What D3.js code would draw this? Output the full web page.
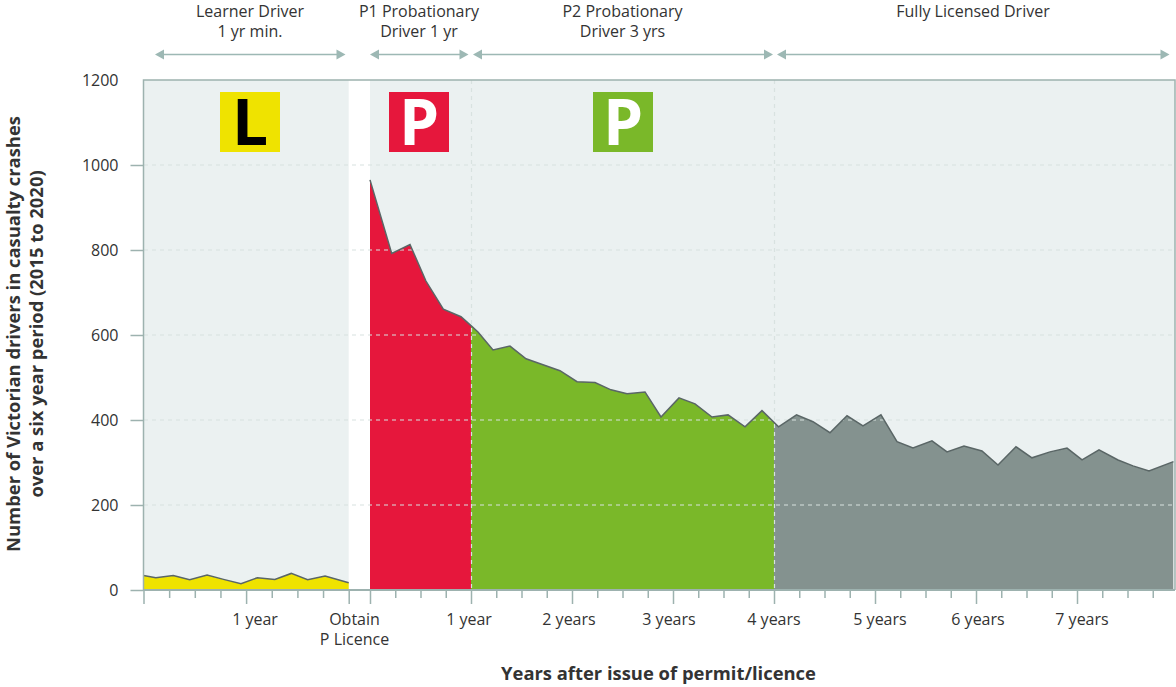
<!DOCTYPE html>
<html><head><meta charset="utf-8">
<script src="https://cdn.jsdelivr.net/npm/d3@7/dist/d3.min.js"></script>
<style>
html,body{margin:0;padding:0;background:#fff}
svg{display:block}
text{font-family:"Open Sans",sans-serif;fill:#333}
</style></head><body><svg id="c" width="1176" height="687"></svg>
<script>
// Learner period: years since permit, crashes
const learnerYears = [0,0.12,0.29,0.45,0.62,0.78,0.95,1.11,1.28,1.44,1.60,1.77,2.0];
const learnerValues = [34,29,34,24,35,25,15,29,25,39,24,33,17];
// Licensed period: years since licence, crashes
const licensedYears = [0,0.215,0.396,0.554,0.726,0.901,1.0,1.069,1.218,1.386,1.545,1.713,1.881,2.05,2.228,2.386,2.545,2.723,2.881,3.059,3.218,3.386,3.545,3.713,3.881,4.045,4.223,4.386,4.554,4.723,4.881,5.059,5.218,5.376,5.564,5.713,5.881,6.059,6.218,6.396,6.554,6.733,6.901,7.05,7.218,7.406,7.554,7.713,7.955];
const licensedValues = [965,792,813,727,661,643,622,607,565,574,544,530,516,490,488,471,462,466,407,452,438,407,412,384,422,384,412,396,370,410,386,412,349,334,351,325,339,327,294,337,311,325,334,306,330,306,292,280,302];
const yTicks = [0,200,400,600,800,1000,1200];
const phases = [
  {name:"P1",from:0,to:1,fill:"#e6173c"},
  {name:"P2",from:1,to:4,fill:"#7ab829"},
  {name:"Full",from:4,to:7.955,fill:"#84928f"}
];
const headers = [
  {lines:["Learner Driver","1 yr min."],cx:250,a:155,b:345.5},
  {lines:["P1 Probationary","Driver 1 yr"],cx:419,a:370,b:468.5},
  {lines:["P2 Probationary","Driver 3 yrs"],cx:622.5,a:473,b:773},
  {lines:["Fully Licensed Driver"],cx:973,a:777,b:1169.5}
];
const badges = [
  {letter:"L",x:220,fill:"#efe300",color:"#000"},
  {letter:"P",x:389,fill:"#e6173c",color:"#fff"},
  {letter:"P",x:593,fill:"#7ab829",color:"#fff"}
];
const xLabels = [
  {t:"1 year",x:255},{t:"1 year",x:469},{t:"2 years",x:569},{t:"3 years",x:669},
  {t:"4 years",x:774},{t:"5 years",x:880},{t:"6 years",x:978},{t:"7 years",x:1082}
];
const axisCol="#9db2af", gridCol="#d8e2e0", lineCol="#5a6666", panel="#ebf1f1";

const svg=d3.select("#c");
const y=d3.scaleLinear().domain([0,1200]).range([590,80]);
const xL=d3.scaleLinear().domain([0,2]).range([143.5,348.7]);
const xP=d3.scaleLinear().domain([0,8]).range([370,1178]);

svg.append("rect").attr("x",143.5).attr("y",80).attr("width",xL(2)-143.5).attr("height",510).attr("fill",panel);
svg.append("rect").attr("x",370).attr("y",80).attr("width",1175-370).attr("height",510).attr("fill",panel);

const lData=learnerYears.map((d,i)=>[d,learnerValues[i]]);
const pData=licensedYears.map((d,i)=>[d,licensedValues[i]]);
const defs=svg.append("defs");
svg.append("path").datum(lData).attr("fill","#efe300")
  .attr("d",d3.area().x(d=>xL(d[0])).y0(y(0)).y1(d=>y(d[1])));
phases.forEach((p,i)=>{
  defs.append("clipPath").attr("id","clip"+i).append("rect")
    .attr("x",xP(p.from)).attr("y",80).attr("width",xP(p.to)-xP(p.from)).attr("height",510);
  svg.append("path").datum(pData).attr("fill",p.fill).attr("clip-path",`url(#clip${i})`)
    .attr("d",d3.area().x(d=>xP(d[0])).y0(y(0)).y1(d=>y(d[1])));
});

const grid=svg.append("g").attr("fill","none").attr("stroke",gridCol).attr("stroke-width",1.2).attr("stroke-dasharray","4 4");
yTicks.filter(v=>v>0&&v<1200).forEach(v=>grid.append("line").attr("x1",144).attr("x2",1175).attr("y1",y(v)).attr("y2",y(v)));
[1,4].forEach(v=>grid.append("line").attr("x1",xP(v)+0.5).attr("x2",xP(v)+0.5).attr("y1",80).attr("y2",590));

svg.append("path").datum(lData).attr("fill","none").attr("stroke",lineCol).attr("stroke-width",1.5)
  .attr("d",d3.line().x(d=>xL(d[0])).y(d=>y(d[1])));
svg.append("path").datum(pData).attr("fill","none").attr("stroke",lineCol).attr("stroke-width",1.5)
  .attr("d",d3.line().x(d=>xP(d[0])).y(d=>y(d[1])));

const frame=svg.append("g").attr("stroke",axisCol).attr("stroke-width",1.5).attr("fill","none");
frame.append("path").attr("d","M143.5,590V80H1175V590");

function xAxis(scale,vals,size){
  const g=svg.append("g").attr("transform","translate(0,590)")
    .call(d3.axisBottom(scale).tickValues(vals).tickSize(size).tickFormat(""));
  g.select(".domain").remove();
  g.selectAll("line").attr("stroke",axisCol).attr("stroke-width",1.5);
}
const lq=d3.range(0,2.01,0.25), pq=d3.range(0,7.76,0.25);
xAxis(xL,lq.filter(d=>d%1!==0),8);
xAxis(xL,lq.filter(d=>d%1===0),14);
xAxis(xP,pq.filter(d=>d%1!==0),8);
xAxis(xP,pq.filter(d=>d%1===0),14);
svg.append("line").attr("x1",143).attr("x2",1175).attr("y1",590).attr("y2",590).attr("stroke",axisCol).attr("stroke-width",2);

const ya=svg.append("g").attr("transform","translate(143.5,0)")
  .call(d3.axisLeft(y).tickValues(yTicks).tickSize(13).tickPadding(12).tickFormat(d3.format("d")));
ya.select(".domain").remove();
ya.selectAll("line").attr("stroke",axisCol).attr("stroke-width",1.5);
ya.selectAll("line").filter(d=>d===1200).remove();
ya.selectAll("text").attr("font-size",16).attr("font-family",'"Open Sans",sans-serif').style("fill","#333");

svg.selectAll(".xl").data(xLabels).join("text").attr("class","xl")
  .attr("x",d=>d.x).attr("y",625).attr("text-anchor","middle").attr("font-size",16).text(d=>d.t);
svg.append("text").attr("x",354.5).attr("y",625).attr("text-anchor","middle").attr("font-size",16).text("Obtain");
svg.append("text").attr("x",354.5).attr("y",645).attr("text-anchor","middle").attr("font-size",16).text("P Licence");

headers.forEach(h=>{
  h.lines.forEach((t,i)=>svg.append("text").attr("x",h.cx).attr("y",17+i*20).attr("text-anchor","middle").attr("font-size",16).text(t));
  const c="#9db8b4", Y=54.5;
  svg.append("line").attr("x1",h.a+6).attr("x2",h.b-6).attr("y1",Y).attr("y2",Y).attr("stroke",c).attr("stroke-width",1.5);
  svg.append("path").attr("fill",c).attr("d",`M${h.a},${Y}l9,-5v10z`);
  svg.append("path").attr("fill",c).attr("d",`M${h.b},${Y}l-9,-5v10z`);
});

badges.forEach(b=>{
  svg.append("rect").attr("x",b.x).attr("y",92).attr("width",60).attr("height",60).attr("fill",b.fill);
  svg.append("text").attr("x",b.x+30).attr("y",144.5).attr("text-anchor","middle")
    .attr("font-size",64).attr("font-weight",700).style("fill",b.color).text(b.letter);
});

svg.append("text").attr("x",658.5).attr("y",680).attr("text-anchor","middle").attr("font-size",18.4).attr("font-weight",700).text("Years after issue of permit/licence");
svg.append("text").attr("transform","translate(20,334) rotate(-90)").attr("text-anchor","middle").attr("font-size",18.4).attr("font-weight",700).text("Number of Victorian drivers in casualty crashes");
svg.append("text").attr("transform","translate(43,334) rotate(-90)").attr("text-anchor","middle").attr("font-size",18.4).attr("font-weight",700).text("over a six year period (2015 to 2020)");
</script></body></html>
